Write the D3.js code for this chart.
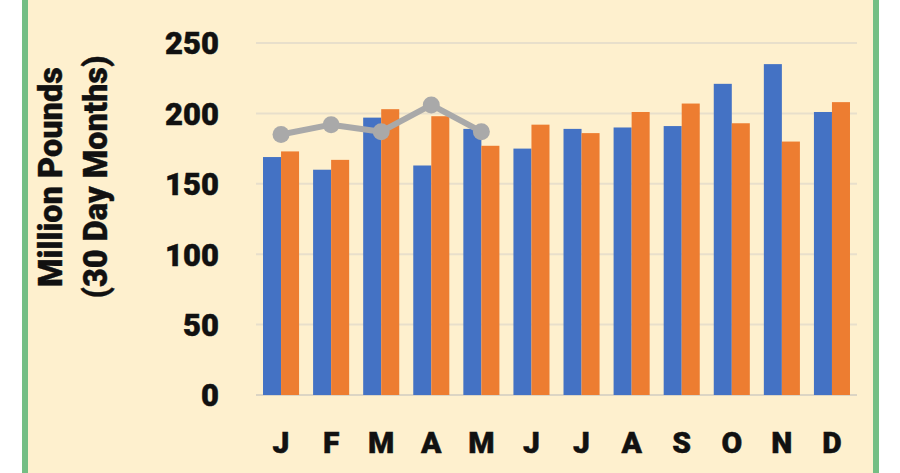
<!DOCTYPE html>
<html><head><meta charset="utf-8">
<script src="https://cdn.jsdelivr.net/npm/d3@7"></script>
<style>html,body{margin:0;padding:0;background:#fff;}svg{display:block;}</style>
</head><body>
<svg id="c" width="900" height="473"></svg>
<script>
const months = ["J","F","M","A","M","J","J","A","S","O","N","D"];
const series1 = [169,160,197,163,189,175,189,190,191,221,235,201];
const series2 = [173,167,203,198,177,192,186,201,207,193,180,208];
const lineValues = [185,192,187,206,187];
const yTicks = [0,50,100,150,200,250];
const yTitle = ["Million Pounds","(30 Day Months)"];

const svg = d3.select("#c");
const W = 900, H = 473;
const font = "Roboto, 'Open Sans', sans-serif";

svg.append("rect").attr("x",0).attr("y",0).attr("width",W).attr("height",H).attr("fill","#ffffff");
svg.append("rect").attr("x",22).attr("y",0).attr("width",857).attr("height",H).attr("fill","#74BE84");
svg.append("rect").attr("x",28).attr("y",0).attr("width",845).attr("height",H).attr("fill","#FEF0CE");

const x = d3.scaleBand().domain(d3.range(12)).range([256,857]).paddingInner(0.28).paddingOuter(0.14);
const y = d3.scaleLinear().domain([0,250]).range([395,43]);

// gridlines
svg.append("g").selectAll("line").data(yTicks).join("line")
  .attr("x1",256).attr("x2",857)
  .attr("y1",d=>y(d)).attr("y2",d=>y(d))
  .attr("stroke",d=>d===0?"#DCD5C4":"#E8DFCB").attr("stroke-width",2);

function styleText(sel,size){
  sel.attr("font-family",font).attr("font-weight",900).attr("font-size",size)
     .attr("fill","#111").attr("stroke","#111").attr("stroke-width",0.5).attr("dy","0.35em");
}

// y axis labels
const yAxis = d3.axisLeft(y).tickValues(yTicks).tickSize(0).tickPadding(0);
const gy = svg.append("g").attr("transform","translate(219,0)").call(yAxis);
gy.select(".domain").remove();
styleText(gy.selectAll("text"),31);

// x axis labels
const xAxis = d3.axisBottom(x).tickFormat(i=>months[i]).tickSize(0).tickPadding(0);
const gx = svg.append("g").attr("transform","translate(0,442)").call(xAxis);
gx.select(".domain").remove();
styleText(gx.selectAll("text"),30);

const bw = x.bandwidth()/2;
svg.append("g").selectAll("rect").data(series1).join("rect")
  .attr("x",(d,i)=>x(i)).attr("width",bw).attr("y",d=>y(d)).attr("height",d=>y(0)-y(d)).attr("fill","#4472C4");
svg.append("g").selectAll("rect").data(series2).join("rect")
  .attr("x",(d,i)=>x(i)+bw).attr("width",bw).attr("y",d=>y(d)).attr("height",d=>y(0)-y(d)).attr("fill","#ED7D31");

// line series
const cx = i => x(i)+x.bandwidth()/2;
const line = d3.line().x((d,i)=>cx(i)).y(d=>y(d));
svg.append("path").datum(lineValues).attr("d",line).attr("fill","none").attr("stroke","#A9A9A9").attr("stroke-width",6).attr("stroke-linejoin","round");
svg.append("g").selectAll("circle").data(lineValues).join("circle")
  .attr("cx",(d,i)=>cx(i)).attr("cy",d=>y(d)).attr("r",8.5).attr("fill","#A9A9A9");

// y title
const t = svg.append("text").attr("transform","translate(84,177) rotate(-90)")
  .attr("text-anchor","middle").attr("font-family",font).attr("font-weight",900).attr("font-size",32.5)
  .attr("fill","#111").attr("stroke","#111").attr("stroke-width",0.4);
t.selectAll("tspan").data(yTitle).join("tspan").attr("x",0).attr("dy",(d,i)=>i===0?"-22px":"45px").text(d=>d);
</script>
</body></html>
